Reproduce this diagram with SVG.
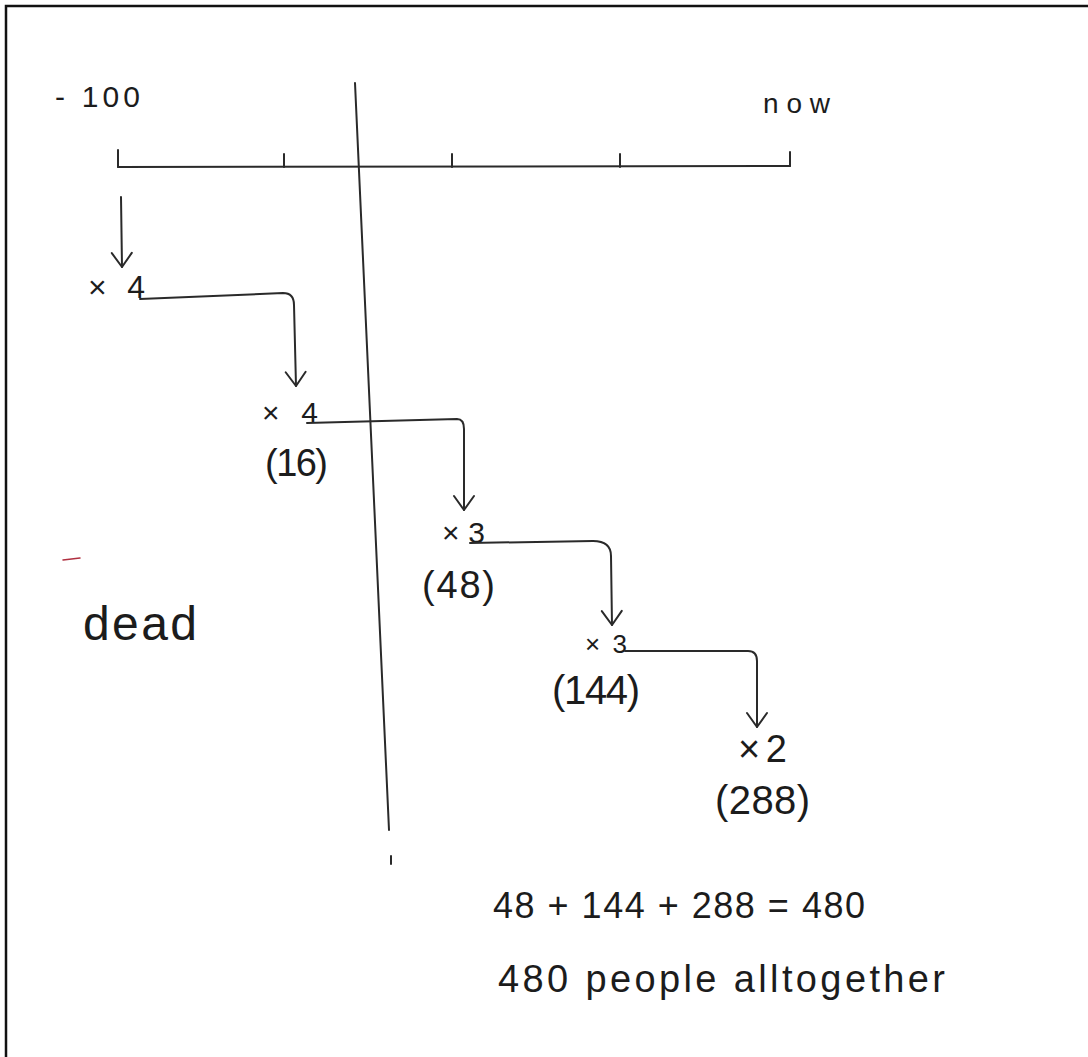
<svg xmlns="http://www.w3.org/2000/svg" width="1088" height="1057" viewBox="0 0 1088 1057">
  <style>
    .t { font-family: "Liberation Sans", Arial, sans-serif; fill: #1c1c1c; }
    .ln { stroke: #2a2a2a; stroke-width: 2; fill: none; stroke-linecap: round; stroke-linejoin: round; }
    .conn { stroke: #2a2a2a; stroke-width: 2; fill: none; stroke-linecap: round; stroke-linejoin: round; marker-end: url(#vhead); }
  </style>
  <defs>
    <marker id="vhead" markerUnits="userSpaceOnUse" orient="auto" refX="0" refY="0" markerWidth="30" markerHeight="30" overflow="visible">
      <path d="M-14,-10 L0,0 L-14,10" fill="none" stroke="#2a2a2a" stroke-width="2" stroke-linecap="round" stroke-linejoin="round"/>
    </marker>
  </defs>
  <rect width="1088" height="1057" fill="#ffffff"/>
  <g id="frame">
    <path d="M6,1057 L6,6 L1088,6" fill="none" stroke="#111" stroke-width="2.5"/>
  </g>

  <g id="timeline">
    <line class="ln" x1="118" y1="167" x2="790" y2="166"/>
    <line class="ln" x1="118" y1="150" x2="118" y2="167"/>
    <line class="ln" x1="284" y1="154" x2="284" y2="167"/>
    <line class="ln" x1="452" y1="154" x2="452" y2="167"/>
    <line class="ln" x1="620" y1="154" x2="620" y2="167"/>
    <line class="ln" x1="790" y1="152" x2="790" y2="166"/>
    <text class="t" x="55" y="107" font-size="30" textLength="85" lengthAdjust="spacing">- 100</text>
    <text class="t" x="763" y="113" font-size="28" textLength="67" lengthAdjust="spacing">now</text>
  </g>

  <g id="divider">
    <line class="ln" x1="355" y1="83" x2="389" y2="830"/>
    <line class="ln" x1="391" y1="856" x2="391" y2="864" stroke-width="1.5"/>
  </g>

  <g id="step1">
    <text class="t" x="88" y="298" font-size="32" textLength="57" lengthAdjust="spacing">× 4</text>
  </g>
  <g id="step2">
    <text class="t" x="262" y="423" font-size="30" textLength="56" lengthAdjust="spacing">× 4</text>
    <text class="t" x="265" y="476" font-size="38" textLength="63" lengthAdjust="spacing">(16)</text>
  </g>
  <g id="step3">
    <text class="t" x="442" y="543" font-size="30" textLength="43" lengthAdjust="spacing">× 3</text>
    <text class="t" x="422" y="598" font-size="38" textLength="73" lengthAdjust="spacing">(48)</text>
  </g>
  <g id="step4">
    <text class="t" x="585" y="653" font-size="26" textLength="42" lengthAdjust="spacing">×3</text>
    <text class="t" x="552" y="704" font-size="40" textLength="88" lengthAdjust="spacing">(144)</text>
  </g>
  <g id="step5">
    <text class="t" x="738" y="762" font-size="38" textLength="49" lengthAdjust="spacing">×2</text>
    <text class="t" x="715" y="814" font-size="40" textLength="95" lengthAdjust="spacing">(288)</text>
  </g>

  <g id="dead">
    <text class="t" x="83" y="640" font-size="48" textLength="114" lengthAdjust="spacing">dead</text>
  </g>

  <g id="summary">
    <text class="t" x="493" y="918" font-size="36" textLength="372" lengthAdjust="spacing">48 + 144 + 288  = 480</text>
    <text class="t" x="498" y="992" font-size="38" textLength="447" lengthAdjust="spacing">480  people  alltogether</text>
  </g>

  <g id="connectors">
    <path class="conn" d="M121,197 L122,267"/>
    <path class="conn" d="M140,299 L283,293 Q294,293 294,305 L296,386"/>
    <path class="conn" d="M307,423 L457,419 Q464,419 464,429 L464,510"/>
    <path class="conn" d="M470,543 L593,541 Q611,541 611,556 L612,625"/>
    <path class="conn" d="M625,651 L748,651 Q757,651 757,661 L757,727"/>
  </g>

  <g id="marks">
    <line x1="63" y1="560" x2="80" y2="558" stroke="#b03040" stroke-width="1.5" stroke-linecap="round"/>
  </g>
</svg>
